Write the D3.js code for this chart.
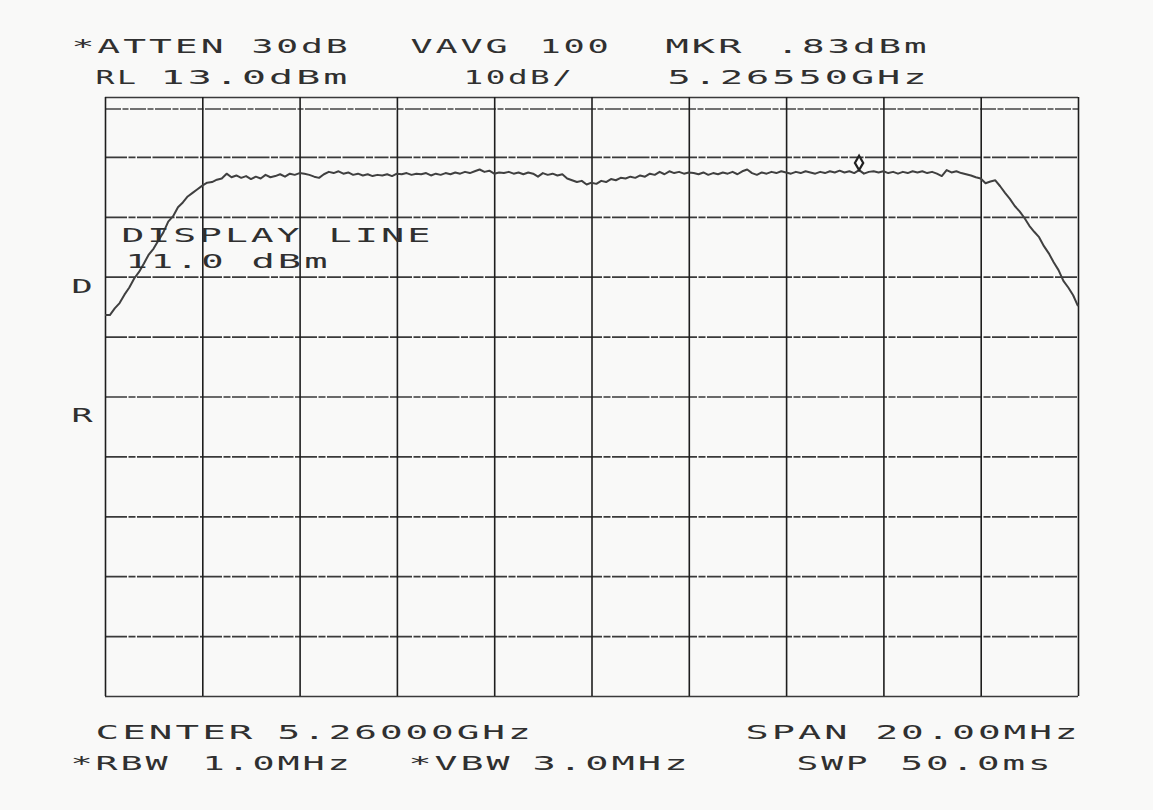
<!DOCTYPE html>
<html>
<head>
<meta charset="utf-8">
<script src="https://cdn.jsdelivr.net/npm/d3@7"></script>
<style>
  html, body { margin: 0; padding: 0; background: #f9f9f8; }
  svg { display: block; }
  text { font-family: "DejaVu Sans Mono", "Liberation Mono", monospace; font-size: 19px; fill: #303030; letter-spacing: 1.5px; }
</style>
</head>
<body>
<svg id="chart" width="1153" height="810"></svg>
<script>
// ---------- data ----------
const refLevelDbm = 13.0;
const dbPerDiv = 10;
const numDivs = 10;
const centerGHz = 5.26;
const spanGHz = 0.02;
const displayLineDbm = 11.0;
const markerGHz = 5.2655;
const markerDbm = 0.83;
const freqTicksGHz = [5.250, 5.252, 5.254, 5.256, 5.258, 5.260, 5.262, 5.264, 5.266, 5.268, 5.270];
const levelTicksDbm = [13, 3, -7, -17, -27, -37, -47, -57, -67, -77, -87];
// trace: 201 sweep points, 0.1 MHz apart, from 5.2500 GHz to 5.2700 GHz (dBm)
const traceDbm = [
  -23.4,-23.4,-22.3,-21.4,-20.0,-18.8,-17.3,-16.2,-14.8,-13.3,
  -12.3,-10.9,-9.6,-7.8,-6.9,-5.4,-4.6,-3.6,-3.0,-2.4,
  -1.8,-1.3,-1.2,-0.8,-0.6,0.2,-0.4,-0.1,-0.5,-0.2,
  -0.7,-0.3,-0.6,0.0,-0.4,-0.2,0.1,-0.3,0.2,0.0,
  0.3,0.2,0.0,-0.3,-0.5,0.1,0.5,0.3,0.6,0.2,
  0.4,0.0,0.2,-0.1,0.1,-0.2,0.0,-0.1,0.1,-0.2,
  0.2,0.1,0.3,0.0,0.2,0.1,0.3,-0.1,0.2,0.0,
  0.3,0.1,0.4,0.2,0.5,0.3,0.6,0.9,0.5,0.7,
  0.2,0.4,0.3,0.5,0.2,0.4,0.1,0.4,0.2,-0.3,
  0.3,0.0,0.2,-0.1,0.1,-0.6,-0.9,-1.2,-1.0,-1.6,
  -1.3,-1.5,-1.0,-1.2,-0.7,-0.9,-0.5,-0.6,-0.3,-0.5,
  -0.1,-0.3,0.2,0.0,0.5,0.1,0.6,0.3,0.5,0.2,
  0.4,0.3,0.1,0.4,0.0,0.3,0.1,0.4,0.2,0.5,
  0.1,0.6,0.9,0.3,0.0,0.4,0.2,0.5,0.3,0.6,
  0.4,0.2,0.5,0.3,0.6,0.4,0.2,0.5,0.3,0.6,
  0.4,0.7,0.4,0.6,0.3,0.8,0.2,0.5,0.6,0.4,
  0.6,0.3,0.5,0.2,0.5,0.3,0.6,0.4,0.6,0.3,
  0.5,0.2,-0.2,0.8,0.4,0.6,0.3,0.1,-0.1,-0.4,
  -0.6,-1.4,-1.1,-0.9,-1.9,-3.0,-4.0,-5.2,-6.1,-7.2,
  -8.5,-9.5,-10.4,-11.9,-13.1,-14.6,-15.9,-17.7,-18.8,-20.1,
  -21.9
];
const headerLine1 = ["*ATTEN", "30dB", "VAVG", "100", "MKR", ".83dBm"];
const headerLine2 = ["RL", "13.0dBm", "10dB/", "5.26550GHz"];
const footerLine1 = ["CENTER", "5.26000GHz", "SPAN", "20.00MHz"];
const footerLine2 = ["*RBW", "1.0MHz", "*VBW", "3.0MHz", "SWP", "50.0ms"];
const displayLineText = ["DISPLAY", "LINE"];
const displayLevelText = ["11.0", "dBm"];
const sideLetters = ["D", "R"];

// ---------- layout (positions/sizes, kept apart from data) ----------
const plot = { left: 105, right: 1078, top: 97, bottom: 696 };
const layout = {
  h1: { y: 53,  x: [73, 253, 412, 541, 667, 778], w: [150, 94, 95, 67, 74, 148] },
  h2: { y: 84,  x: [97, 162, 465, 669], w: [38, 185, 106, 257] },
  f1: { y: 739, x: [97, 279, 747, 877], w: [155, 251, 100, 200] },
  f2: { y: 770, x: [72, 204, 410, 534, 798, 902], w: [95, 145, 99, 153, 69, 148] },
  dl: { y: 242, x: [123, 330], w: [176, 100] },
  dv: { y: 268, x: [127, 253], w: [96, 74] },
  side: { x: 73, w: 19, y: [293, 422] }
};

const svg = d3.select("#chart");
const x = d3.scaleLinear().domain([centerGHz - spanGHz / 2, centerGHz + spanGHz / 2]).range([plot.left, plot.right]);
const y = d3.scaleLinear().domain([refLevelDbm - dbPerDiv * numDivs, refLevelDbm]).range([plot.bottom, plot.top]);
const W = plot.right - plot.left, H = plot.bottom - plot.top;

// horizontal graticule (printed look)
const gy = svg.append("g").attr("transform", `translate(${plot.left},0)`)
  .call(d3.axisLeft(y).tickValues(levelTicksDbm).tickSize(-W).tickFormat(""));
gy.select(".domain").remove();
gy.selectAll(".tick line").attr("stroke", "#3a3a3a").attr("stroke-width", 1.7)
  .attr("stroke-dasharray", d => (d === refLevelDbm || d === levelTicksDbm[levelTicksDbm.length - 1] ? null : "22,1.5,7,1.5,14,1.5"));

// display line
svg.append("line").attr("x1", x.range()[0]).attr("x2", x.range()[1])
  .attr("y1", y(displayLineDbm)).attr("y2", y(displayLineDbm))
  .attr("stroke", "#444").attr("stroke-width", 1.6).attr("stroke-dasharray", "16,1.5,6,1.5");

// vertical graticule
const gx = svg.append("g").attr("transform", `translate(0,${plot.bottom})`)
  .call(d3.axisBottom(x).tickValues(freqTicksGHz).tickSize(-H).tickFormat(""));
gx.select(".domain").remove();
gx.selectAll(".tick line").attr("stroke", "#1e1e1e").attr("stroke-width", 1.6);

// trace
const freqs = traceDbm.map((_, i) => x.domain()[0] + i * (spanGHz / (traceDbm.length - 1)));
const line = d3.line().x((d, i) => x(freqs[i])).y(d => y(d));
svg.append("path").datum(traceDbm).attr("d", line)
  .attr("fill", "none").attr("stroke", "#404040").attr("stroke-width", 2).attr("stroke-linejoin", "round");

// marker diamond (drawn just above the marked point)
svg.append("path")
  .attr("d", d3.symbol(d3.symbolDiamond, 60)())
  .attr("transform", `translate(${x(markerGHz)},${y(markerDbm) - 7})`)
  .attr("fill", "#fff").attr("stroke", "#222").attr("stroke-width", 2.2);

// ---------- text (stretched plotter-style lettering) ----------
function label(str, left, baseline, inkW) {
  svg.append("text")
    .attr("x", left - 1.5).attr("y", baseline)
    .attr("textLength", inkW + 5)
    .attr("lengthAdjust", "spacingAndGlyphs")
    .text(str);
}
headerLine1.forEach((s, i) => label(s, layout.h1.x[i], layout.h1.y, layout.h1.w[i]));
headerLine2.forEach((s, i) => label(s, layout.h2.x[i], layout.h2.y, layout.h2.w[i]));
footerLine1.forEach((s, i) => label(s, layout.f1.x[i], layout.f1.y, layout.f1.w[i]));
footerLine2.forEach((s, i) => label(s, layout.f2.x[i], layout.f2.y, layout.f2.w[i]));
displayLineText.forEach((s, i) => label(s, layout.dl.x[i], layout.dl.y, layout.dl.w[i]));
displayLevelText.forEach((s, i) => label(s, layout.dv.x[i], layout.dv.y, layout.dv.w[i]));
sideLetters.forEach((s, i) => label(s, layout.side.x, layout.side.y[i], layout.side.w));
</script>
</body>
</html>
